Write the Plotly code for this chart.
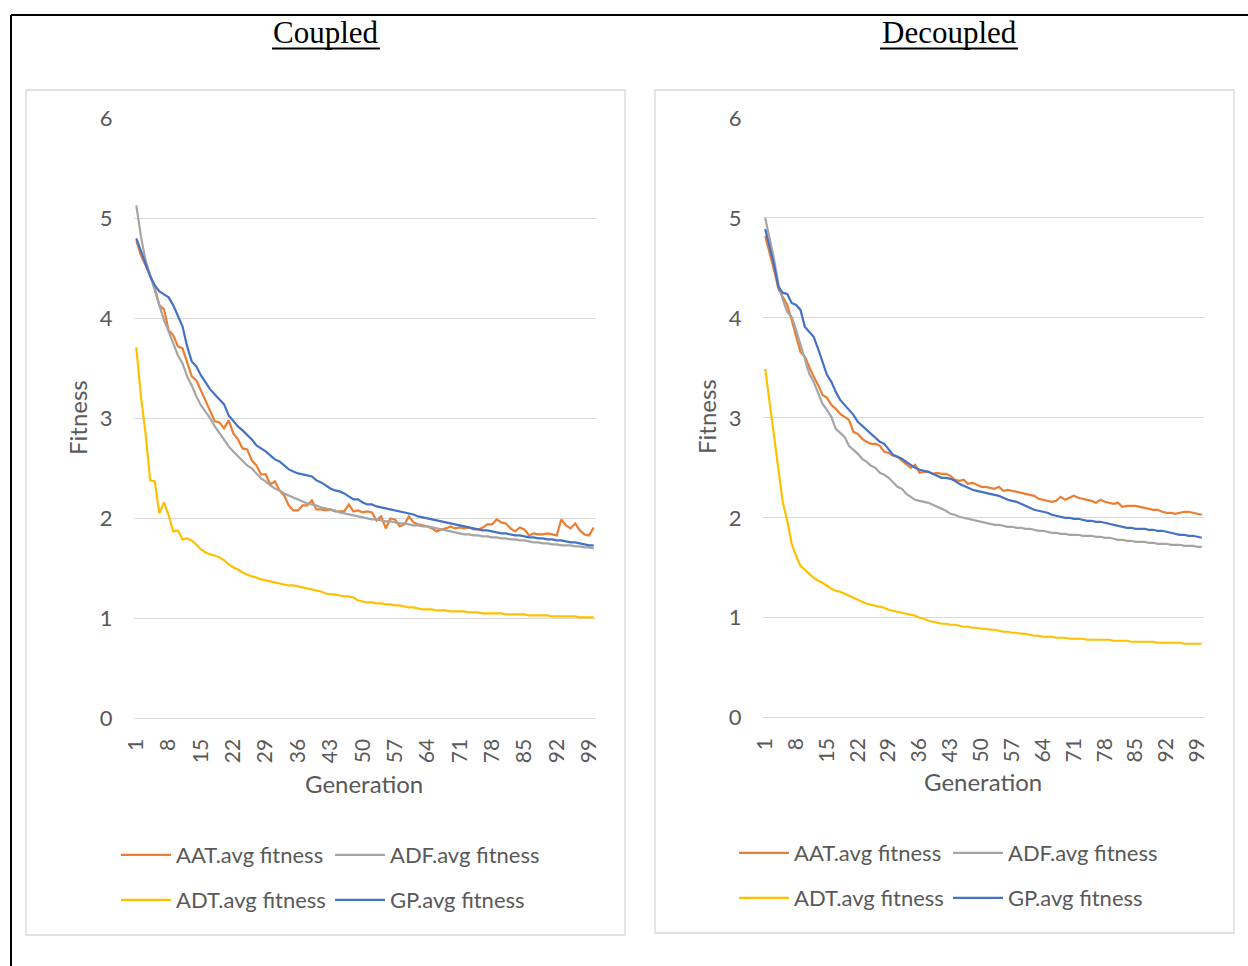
import plotly.graph_objects as go

W, H = 1248, 966

generations = list(range(1, 101))
x_tick_vals = list(range(1, 101, 7))
x_tick_text = [str(v) for v in x_tick_vals]
y_tick_vals = [0, 1, 2, 3, 4, 5, 6]

series_names = ["AAT.avg fitness", "ADF.avg fitness", "ADT.avg fitness", "GP.avg fitness"]
series_colors = ["#ED7D31", "#A5A5A5", "#FFC000", "#4472C4"]
panel_titles = ["Coupled", "Decoupled"]

coupled_aat = [
    4.78, 4.63, 4.53, 4.43, 4.30, 4.13, 4.09, 3.88, 3.83, 3.72,
    3.70, 3.55, 3.42, 3.38, 3.28, 3.17, 3.07, 2.97, 2.96, 2.90,
    2.98, 2.85, 2.79, 2.70, 2.69, 2.58, 2.53, 2.44, 2.44, 2.34,
    2.37, 2.28, 2.23, 2.13, 2.08, 2.08, 2.13, 2.13, 2.18, 2.09,
    2.09, 2.08, 2.09, 2.07, 2.07, 2.07, 2.14, 2.07, 2.08, 2.06,
    2.07, 2.06, 1.98, 2.02, 1.90, 2.00, 1.99, 1.92, 1.94, 2.02,
    1.96, 1.94, 1.93, 1.92, 1.90, 1.87, 1.89, 1.90, 1.92, 1.90,
    1.91, 1.90, 1.91, 1.89, 1.89, 1.91, 1.94, 1.94, 1.99, 1.96,
    1.95, 1.90, 1.87, 1.91, 1.89, 1.83, 1.85, 1.84, 1.84, 1.85,
    1.84, 1.83, 1.99, 1.93, 1.90, 1.95, 1.88, 1.84, 1.83, 1.91,
]
coupled_adf = [
    5.13, 4.82, 4.58, 4.43, 4.28, 4.13, 3.98, 3.87, 3.75, 3.63,
    3.55, 3.42, 3.33, 3.22, 3.13, 3.07, 3.00, 2.92, 2.85, 2.78,
    2.72, 2.67, 2.62, 2.57, 2.53, 2.50, 2.45, 2.40, 2.37, 2.33,
    2.30, 2.28, 2.25, 2.23, 2.21, 2.19, 2.17, 2.15, 2.14, 2.13,
    2.11, 2.10, 2.09, 2.08, 2.06, 2.05, 2.04, 2.03, 2.02, 2.01,
    2.00, 1.99, 1.99, 1.98, 1.97, 1.97, 1.96, 1.95, 1.95, 1.94,
    1.93, 1.93, 1.92, 1.92, 1.91, 1.90, 1.89, 1.88, 1.87, 1.86,
    1.85, 1.84, 1.84, 1.83, 1.83, 1.82, 1.82, 1.81, 1.81, 1.80,
    1.80, 1.79, 1.79, 1.78, 1.78, 1.77, 1.76, 1.76, 1.75, 1.75,
    1.74, 1.74, 1.73, 1.73, 1.73, 1.72, 1.72, 1.71, 1.71, 1.70,
]
coupled_adt = [
    3.71, 3.22, 2.85, 2.38, 2.37, 2.05, 2.16, 2.03, 1.87, 1.88,
    1.79, 1.80, 1.78, 1.74, 1.69, 1.66, 1.64, 1.63, 1.61, 1.58,
    1.54, 1.51, 1.49, 1.46, 1.44, 1.42, 1.41, 1.39, 1.38, 1.37,
    1.36, 1.35, 1.34, 1.33, 1.33, 1.32, 1.31, 1.30, 1.29, 1.28,
    1.27, 1.25, 1.24, 1.24, 1.23, 1.22, 1.22, 1.21, 1.18, 1.17,
    1.16, 1.16, 1.15, 1.15, 1.14, 1.14, 1.13, 1.13, 1.12, 1.11,
    1.11, 1.10, 1.09, 1.09, 1.09, 1.08, 1.08, 1.08, 1.07, 1.07,
    1.07, 1.07, 1.06, 1.06, 1.06, 1.05, 1.05, 1.05, 1.05, 1.05,
    1.04, 1.04, 1.04, 1.04, 1.04, 1.03, 1.03, 1.03, 1.03, 1.03,
    1.02, 1.02, 1.02, 1.02, 1.02, 1.02, 1.01, 1.01, 1.01, 1.01,
]
coupled_gp = [
    4.80, 4.67, 4.53, 4.42, 4.33, 4.27, 4.24, 4.21, 4.13, 4.03,
    3.92, 3.72, 3.57, 3.52, 3.43, 3.36, 3.29, 3.24, 3.19, 3.14,
    3.03, 2.97, 2.92, 2.88, 2.84, 2.79, 2.73, 2.70, 2.67, 2.63,
    2.59, 2.57, 2.53, 2.49, 2.47, 2.45, 2.44, 2.43, 2.42, 2.38,
    2.36, 2.33, 2.30, 2.28, 2.27, 2.25, 2.22, 2.19, 2.19, 2.16,
    2.14, 2.14, 2.12, 2.11, 2.10, 2.09, 2.08, 2.07, 2.06, 2.05,
    2.04, 2.02, 2.01, 2.00, 1.99, 1.98, 1.97, 1.96, 1.95, 1.94,
    1.93, 1.92, 1.91, 1.90, 1.89, 1.88, 1.88, 1.87, 1.86, 1.85,
    1.85, 1.84, 1.83, 1.83, 1.82, 1.81, 1.81, 1.80, 1.80, 1.79,
    1.79, 1.78, 1.78, 1.77, 1.76, 1.76, 1.75, 1.74, 1.73, 1.73,
]

decoupled_aat = [
    4.82, 4.66, 4.48, 4.29, 4.21, 4.13, 3.98, 3.83, 3.66, 3.61,
    3.51, 3.41, 3.33, 3.23, 3.20, 3.13, 3.09, 3.04, 3.01, 2.98,
    2.86, 2.84, 2.79, 2.76, 2.74, 2.74, 2.72, 2.66, 2.65, 2.62,
    2.61, 2.57, 2.54, 2.50, 2.53, 2.45, 2.46, 2.46, 2.44, 2.45,
    2.44, 2.44, 2.42, 2.38, 2.37, 2.38, 2.34, 2.35, 2.33, 2.31,
    2.31, 2.30, 2.29, 2.31, 2.27, 2.28, 2.27, 2.26, 2.25, 2.24,
    2.23, 2.22, 2.19, 2.18, 2.17, 2.16, 2.17, 2.21, 2.18, 2.20,
    2.22, 2.20, 2.19, 2.18, 2.17, 2.15, 2.18, 2.16, 2.15, 2.14,
    2.15, 2.11, 2.12, 2.12, 2.12, 2.11, 2.10, 2.09, 2.08, 2.08,
    2.06, 2.05, 2.05, 2.04, 2.05, 2.06, 2.06, 2.05, 2.04, 2.03,
]
decoupled_adf = [
    5.00, 4.81, 4.59, 4.34, 4.18, 4.06, 4.01, 3.88, 3.74, 3.58,
    3.44, 3.36, 3.24, 3.14, 3.08, 3.01, 2.89, 2.85, 2.81, 2.72,
    2.68, 2.64, 2.59, 2.56, 2.52, 2.50, 2.45, 2.43, 2.40, 2.36,
    2.31, 2.29, 2.24, 2.21, 2.18, 2.17, 2.16, 2.15, 2.13, 2.11,
    2.09, 2.07, 2.04, 2.03, 2.01, 2.00, 1.99, 1.98, 1.97, 1.96,
    1.95, 1.94, 1.93, 1.93, 1.92, 1.91, 1.91, 1.90, 1.90, 1.89,
    1.89, 1.88, 1.87, 1.87, 1.86, 1.85, 1.85, 1.84, 1.84, 1.83,
    1.83, 1.83, 1.82, 1.82, 1.82, 1.81, 1.81, 1.80, 1.80, 1.79,
    1.78, 1.78, 1.77, 1.77, 1.76, 1.76, 1.76, 1.75, 1.75, 1.74,
    1.74, 1.74, 1.73, 1.73, 1.73, 1.72, 1.72, 1.72, 1.71, 1.71,
]
decoupled_adt = [
    3.49, 3.15, 2.80, 2.45, 2.15, 1.97, 1.74, 1.62, 1.52, 1.48,
    1.44, 1.40, 1.37, 1.35, 1.32, 1.29, 1.27, 1.26, 1.24, 1.22,
    1.20, 1.18, 1.16, 1.14, 1.13, 1.12, 1.11, 1.10, 1.08, 1.07,
    1.06, 1.05, 1.04, 1.03, 1.02, 1.00, 0.99, 0.97, 0.96, 0.95,
    0.94, 0.94, 0.93, 0.93, 0.92, 0.91, 0.91, 0.90, 0.90, 0.89,
    0.89, 0.88, 0.88, 0.87, 0.86, 0.86, 0.85, 0.85, 0.84, 0.84,
    0.83, 0.82, 0.82, 0.81, 0.81, 0.81, 0.80, 0.80, 0.80, 0.79,
    0.79, 0.79, 0.79, 0.78, 0.78, 0.78, 0.78, 0.78, 0.78, 0.77,
    0.77, 0.77, 0.77, 0.76, 0.76, 0.76, 0.76, 0.76, 0.76, 0.75,
    0.75, 0.75, 0.75, 0.75, 0.75, 0.74, 0.74, 0.74, 0.74, 0.74,
]
decoupled_gp = [
    4.89, 4.71, 4.53, 4.31, 4.25, 4.24, 4.15, 4.13, 4.08, 3.91,
    3.86, 3.81, 3.69, 3.56, 3.43, 3.36, 3.26, 3.18, 3.13, 3.09,
    3.03, 2.96, 2.92, 2.88, 2.83, 2.79, 2.76, 2.74, 2.68, 2.63,
    2.61, 2.59, 2.56, 2.53, 2.50, 2.48, 2.47, 2.46, 2.44, 2.42,
    2.40, 2.40, 2.39, 2.37, 2.34, 2.32, 2.30, 2.28, 2.27, 2.26,
    2.25, 2.24, 2.23, 2.22, 2.20, 2.18, 2.17, 2.16, 2.14, 2.12,
    2.10, 2.08, 2.07, 2.06, 2.05, 2.03, 2.02, 2.01, 2.00, 2.00,
    1.99, 1.99, 1.98, 1.97, 1.97, 1.96, 1.96, 1.95, 1.94, 1.93,
    1.92, 1.91, 1.90, 1.90, 1.89, 1.89, 1.89, 1.88, 1.88, 1.87,
    1.87, 1.86, 1.85, 1.84, 1.83, 1.83, 1.82, 1.82, 1.81, 1.80,
]

panels = [
    [coupled_aat, coupled_adf, coupled_adt, coupled_gp],
    [decoupled_aat, decoupled_adf, decoupled_adt, decoupled_gp],
]

# ---- layout geometry (pixels) ----
def px(x):
    return x / W

def py(y):
    return 1 - y / H

FONT = "Lato, 'Open Sans', sans-serif"
GREY_TXT = "#595959"
GRID = "#D9D9D9"

geom = [
    dict(x0=134, x1=596, y0=718.5, y6=118.3, box=(26, 90, 625, 935),
         ytitle=(77, 418), xtitle=(364, 783), title_x=326,
         leg_x=[116, 330, 116, 330], leg_y=[855, 855, 900, 900]),
    dict(x0=763, x1=1204, y0=717.7, y6=118.0, box=(655, 90, 1234, 933),
         ytitle=(706, 417), xtitle=(983, 781), title_x=949,
         leg_x=[734, 948, 734, 948], leg_y=[853, 853, 898, 898]),
]

fig = go.Figure()
layout = dict(
    width=W, height=H, autosize=False,
    margin=dict(l=0, r=0, t=0, b=0, pad=0, autoexpand=False),
    paper_bgcolor="white", plot_bgcolor="white",
    shapes=[], annotations=[],
)

for p, g in enumerate(geom):
    xa = "xaxis" if p == 0 else "xaxis2"
    ya = "yaxis" if p == 0 else "yaxis2"
    xr = "x" if p == 0 else "x2"
    yr = "y" if p == 0 else "y2"
    layout[xa] = dict(
        domain=[px(g["x0"]), px(g["x1"])], range=[0.5, 100.5],
        anchor=yr, tickmode="array", tickvals=x_tick_vals, ticktext=x_tick_text,
        tickangle=-90, showgrid=False, zeroline=False, showline=False,
        ticks="outside", ticklen=11, tickcolor="rgba(0,0,0,0)", automargin=False,
        tickfont=dict(family=FONT, size=21, color=GREY_TXT), fixedrange=True,
    )
    layout[ya] = dict(
        domain=[py(g["y0"]), py(g["y6"])], range=[0, 6], anchor=xr,
        tickmode="array", tickvals=y_tick_vals, showgrid=True, gridcolor=GRID,
        gridwidth=1.3, zeroline=True, zerolinecolor=GRID, zerolinewidth=1.3,
        showline=False, ticks="outside", ticklen=16, tickcolor="rgba(0,0,0,0)",
        automargin=False,
        tickfont=dict(family=FONT, size=22, color=GREY_TXT), fixedrange=True,
    )
    for s in range(4):
        legname = "legend" if (p * 4 + s) == 0 else f"legend{p * 4 + s + 1}"
        fig.add_trace(go.Scatter(
            x=generations, y=panels[p][s], mode="lines", name=series_names[s],
            line=dict(color=series_colors[s], width=2.2),
            xaxis=xr, yaxis=yr, legend=legname, showlegend=True,
        ))
        layout[legname] = dict(
            x=px(g["leg_x"][s]), y=py(g["leg_y"][s]), xanchor="left", yanchor="middle",
            bgcolor="rgba(0,0,0,0)", borderwidth=0, itemwidth=50,
            font=dict(family=FONT, size=22, color=GREY_TXT),
            orientation="h", itemclick=False, itemdoubleclick=False,
        )
    bx0, by0, bx1, by1 = g["box"]
    layout["shapes"].append(dict(type="rect", xref="paper", yref="paper",
                                 x0=px(bx0), x1=px(bx1), y0=py(by1), y1=py(by0),
                                 line=dict(color=GRID, width=1.3), layer="below"))
    layout["annotations"].append(dict(
        text="Fitness", textangle=-90, x=px(g["ytitle"][0]), y=py(g["ytitle"][1]),
        xref="paper", yref="paper", showarrow=False, xanchor="center", yanchor="middle",
        font=dict(family=FONT, size=24, color=GREY_TXT)))
    layout["annotations"].append(dict(
        text="Generation", x=px(g["xtitle"][0]), y=py(g["xtitle"][1]),
        xref="paper", yref="paper", showarrow=False, xanchor="center", yanchor="middle",
        font=dict(family=FONT, size=24, color=GREY_TXT)))
    layout["annotations"].append(dict(
        text=panel_titles[p], x=px(g["title_x"]), y=py(32.5),
        xref="paper", yref="paper", showarrow=False, xanchor="center", yanchor="middle",
        font=dict(family="'Liberation Serif', 'Times New Roman', serif", size=31, color="black")))

# underlines of panel titles
for x0, x1 in [(272, 380), (880, 1018)]:
    layout["shapes"].append(dict(type="line", xref="paper", yref="paper",
                                 x0=px(x0), x1=px(x1), y0=py(48.5), y1=py(48.5),
                                 line=dict(color="black", width=2)))
# outer page border (top and left)
layout["shapes"].append(dict(type="line", xref="paper", yref="paper",
                             x0=px(11), x1=1, y0=py(15), y1=py(15),
                             line=dict(color="black", width=2)))
layout["shapes"].append(dict(type="line", xref="paper", yref="paper",
                             x0=px(11), x1=px(11), y0=0, y1=py(15),
                             line=dict(color="black", width=2)))

fig.update_layout(**layout)
fig.write_html("out.html", include_plotlyjs=True, config={"displayModeBar": False},
               post_script="document.body.style.margin='0';document.body.style.overflow='hidden';")
